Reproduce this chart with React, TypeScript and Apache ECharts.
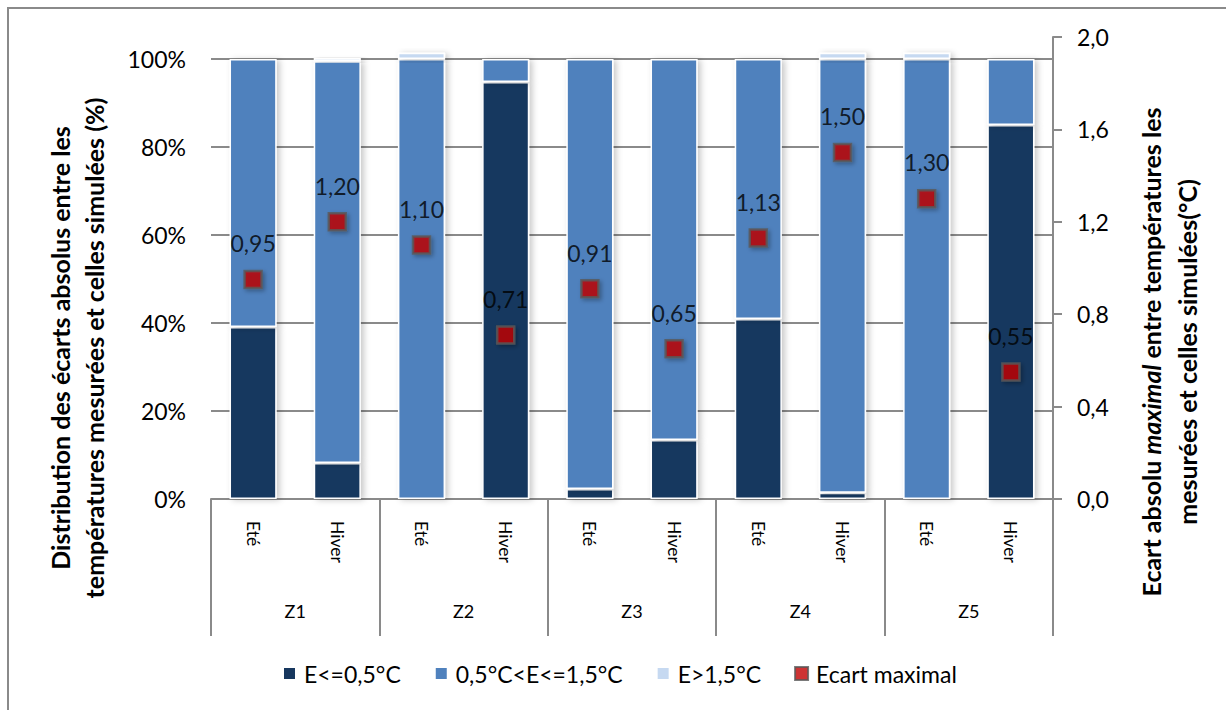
import React, { useEffect, useRef } from "react";
import * as echarts from "echarts";

const seasons = ["Eté", "Hiver", "Eté", "Hiver", "Eté", "Hiver", "Eté", "Hiver", "Eté", "Hiver"];
const zones = ["Z1", "Z2", "Z3", "Z4", "Z5"];
const lowShare = [39.1, 8.2, 0, 94.8, 2.3, 13.4, 40.9, 1.4, 0, 85];
const midShare = [60.9, 91.3, 100, 5.2, 97.7, 86.6, 59.1, 98.6, 100, 15];
const highShare = [0, 0.7, 1.4, 0, 0, 0, 0, 1.4, 1.4, 0];
const maxGap = [0.95, 1.2, 1.1, 0.71, 0.91, 0.65, 1.13, 1.5, 1.3, 0.55];
const leftTicks = [0, 20, 40, 60, 80, 100];
const rightTicks = [0, 0.4, 0.8, 1.2, 1.6, 2.0];

const FONT = "Lato, 'Open Sans', sans-serif";
const GRAY = "#8a8a8a";

export default function App() {
  const ref = useRef<HTMLDivElement>(null);
  useEffect(() => {
    if (!ref.current) return;
    const chart = echarts.init(ref.current, undefined, { renderer: "svg" });
    const barStyle = (color: string) => ({
      color,
      borderColor: "#ffffff",
      borderWidth: 1.5,
      shadowBlur: 6,
      shadowOffsetX: 3,
      shadowOffsetY: 1,
      shadowColor: "rgba(0,0,0,0.22)",
    });
    chart.setOption({
      animation: false,
      backgroundColor: "#ffffff",
      textStyle: { fontFamily: FONT },
      grid: { left: 211, right: 173, top: 37, bottom: 211, containLabel: false },
      legend: {
        left: 282,
        top: 662,
        padding: 0,
        itemGap: 33,
        itemWidth: 13,
        itemHeight: 13,
        textStyle: { fontSize: 23, color: "#000", fontFamily: FONT, padding: [0, 0, 0, 3] },
        data: [
          { name: "E<=0,5°C", icon: "rect" },
          { name: "0,5°C<E<=1,5°C", icon: "rect" },
          { name: "E>1,5°C", icon: "rect" },
          { name: "Ecart maximal", icon: "rect" },
        ],
      },
      xAxis: [
        {
          type: "category",
          data: seasons,
          position: "bottom",
          axisLine: { show: true, lineStyle: { color: GRAY, width: 2 } },
          axisTick: { show: false },
          axisLabel: { interval: 0, rotate: -90, margin: 22, fontSize: 17.5, color: "#000", fontFamily: FONT },
          splitLine: { show: false },
        },
        {
          type: "category",
          data: zones,
          position: "bottom",
          axisLine: { show: false },
          axisTick: { show: true, length: 137, lineStyle: { color: GRAY, width: 2 } },
          axisLabel: { interval: 0, margin: 103, fontSize: 18, color: "#000", fontFamily: FONT },
          splitLine: { show: false },
        },
      ],
      yAxis: [
        {
          type: "value",
          min: 0,
          max: 105,
          interval: 20,
          position: "left",
          axisLine: { show: false },
          axisTick: { show: false },
          axisLabel: {
            margin: 25,
            fontSize: 23,
            color: "#000",
            fontFamily: FONT,
            showMaxLabel: false,
            formatter: (v: number) => (leftTicks.includes(Math.round(v)) && v <= 100 ? `${Math.round(v)}%` : ""),
          },
          splitLine: { show: true, showMaxLine: false, lineStyle: { color: GRAY, width: 2 } },
        },
        {
          type: "value",
          min: 0,
          max: 2,
          interval: 0.4,
          position: "right",
          axisLine: { show: true, lineStyle: { color: GRAY, width: 2 } },
          axisTick: { show: true, length: 9, lineStyle: { color: GRAY, width: 2 } },
          axisLabel: {
            margin: 24,
            fontSize: 23,
            color: "#000",
            fontFamily: FONT,
            formatter: (v: number) => {
              const t = rightTicks.find((r) => Math.abs(r - v) < 1e-6);
              return t === undefined ? "" : t.toFixed(1).replace(".", ",");
            },
          },
          splitLine: { show: false },
        },
      ],
      series: [
        {
          name: "E<=0,5°C",
          type: "bar",
          stack: "dist",
          barWidth: "56%",
          xAxisIndex: 0,
          yAxisIndex: 0,
          data: lowShare,
          itemStyle: barStyle("#17375E"),
        },
        {
          name: "0,5°C<E<=1,5°C",
          type: "bar",
          stack: "dist",
          barWidth: "56%",
          xAxisIndex: 0,
          yAxisIndex: 0,
          data: midShare,
          itemStyle: barStyle("#4F81BD"),
        },
        {
          name: "E>1,5°C",
          type: "bar",
          stack: "dist",
          barWidth: "56%",
          xAxisIndex: 0,
          yAxisIndex: 0,
          data: highShare,
          itemStyle: barStyle("#C6D9F1"),
        },
        {
          name: "Ecart maximal",
          type: "scatter",
          xAxisIndex: 0,
          yAxisIndex: 1,
          symbol: "rect",
          symbolSize: 17,
          z: 5,
          data: maxGap,
          itemStyle: {
            color: "#C00000",
            borderColor: "#595959",
            borderWidth: 2.5,
            shadowBlur: 4,
            shadowOffsetX: 2,
            shadowOffsetY: 2,
            shadowColor: "rgba(0,0,0,0.35)",
          },
          label: {
            show: true,
            position: "top",
            distance: 15,
            fontSize: 23,
            color: "#000",
            fontFamily: FONT,
            formatter: (p: any) => Number(p.value).toFixed(2).replace(".", ","),
          },
        },
      ],
      graphic: [
        {
          type: "rect",
          silent: true,
          shape: { x: 8, y: 8, width: 1240, height: 740 },
          style: { fill: "none", stroke: GRAY, lineWidth: 2 },
        },
        {
          type: "text",
          x: 60,
          y: 348,
          rotation: Math.PI / 2,
          style: {
            text: "Distribution des écarts absolus entre les",
            font: `bold 25px ${FONT}`,
            fill: "#000",
            textAlign: "center",
            textVerticalAlign: "middle",
          },
        },
        {
          type: "text",
          x: 94,
          y: 348,
          rotation: Math.PI / 2,
          style: {
            text: "températures mesurées et celles simulées (%)",
            font: `bold 25px ${FONT}`,
            fill: "#000",
            textAlign: "center",
            textVerticalAlign: "middle",
          },
        },
        {
          type: "text",
          x: 1151,
          y: 352,
          rotation: Math.PI / 2,
          style: {
            text: "Ecart absolu {i|maximal} entre températures les",
            fontFamily: FONT,
            fontWeight: "bold",
            fontSize: 25,
            fill: "#000",
            textAlign: "center",
            textVerticalAlign: "middle",
            rich: {
              i: { fontStyle: "italic", fontWeight: "bold", fontSize: 25, fontFamily: FONT, fill: "#000" },
            },
          },
        },
        {
          type: "text",
          x: 1187,
          y: 352,
          rotation: Math.PI / 2,
          style: {
            text: "mesurées et celles simulées(°C)",
            font: `bold 25px ${FONT}`,
            fill: "#000",
            textAlign: "center",
            textVerticalAlign: "middle",
          },
        },
      ],
    });
    return () => chart.dispose();
  }, []);
  return (
    <div
      ref={ref}
      style={{ position: "fixed", left: 0, top: 0, width: 1226, height: 710, background: "#fff" }}
    />
  );
}
